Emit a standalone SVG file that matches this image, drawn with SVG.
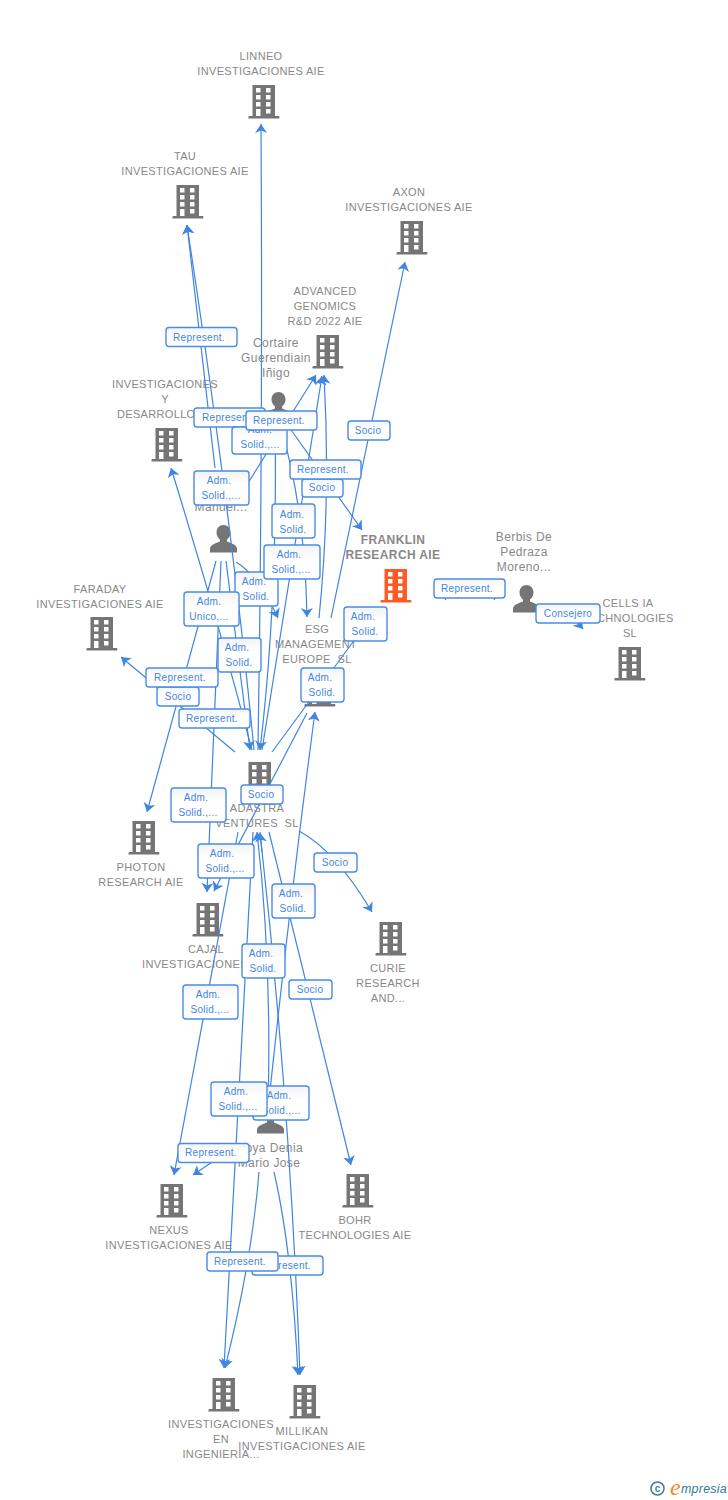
<svg xmlns="http://www.w3.org/2000/svg" width="728" height="1500" viewBox="0 0 728 1500">
<style>
text{font-family:"Liberation Sans",Arial,sans-serif}
.n{font-size:11px;fill:#888;text-anchor:middle;letter-spacing:.33px}
.p{font-size:12px;fill:#888;text-anchor:middle;letter-spacing:.4px}
.f{font-size:12px;fill:#888;text-anchor:middle;font-weight:bold;letter-spacing:.4px}
.e{fill:none;stroke:#3f85e2;stroke-width:1.2;marker-end:url(#a)}
.l{fill:none;stroke:#3f85e2;stroke-width:1.2}
.b{fill:url(#g);stroke:#4a8ce6;stroke-width:1.4}
.t{font-size:10px;fill:#3f85e2;text-anchor:middle;letter-spacing:.3px}
</style>
<defs>
<linearGradient id="g" x1="0" y1="0" x2="0" y2="1"><stop offset="0" stop-color="#f3f3f3"/><stop offset=".4" stop-color="#fff"/><stop offset="1" stop-color="#fff"/></linearGradient>
<marker id="a" markerUnits="userSpaceOnUse" markerWidth="12" markerHeight="14" refX="9" refY="6.500" orient="auto"><path d="M9 6.500L0 0.500L2.500 6.500L0 12.500Z" fill="#3f85e2"/></marker>
<symbol id="bd" width="32" height="34" viewBox="0 0 32 34" overflow="visible"><path fill-rule="evenodd" d="M4.500 0H27V31H31Q32 32 31 33.500H0.500Q0 32 1 31H4.500ZM8 3V7.500H12.500V3ZM18 3V7.500H22.500V3ZM8 10V14.500H12.500V10ZM18 10V14.500H22.500V10ZM8 17V21.500H12.500V17ZM18 17V21.500H22.500V17ZM8 24V31H12.500V24ZM18 24V28.500H22.500V24Z"/></symbol>
<symbol id="pe" width="27" height="28" viewBox="0 0 27 28" overflow="visible"><path d="M13.500 0C17.500 0 20.500 3 20.500 7.500C20.500 10.500 19 13 17 14.500V16.500C20 18 26.500 19 27 23.500V27.500H0V23.500C.5 19 7 18 10 16.500V14.500C8 13 6.500 10.500 6.500 7.500C6.500 3 9.500 0 13.500 0Z"/></symbol>
</defs>

<g id="node-linneo" fill="#757575"><text class="n" x="261" y="60">LINNEO</text><text class="n" x="261" y="75">INVESTIGACIONES AIE</text><use href="#bd" x="248" y="85"/></g>
<g id="node-tau" fill="#757575"><text class="n" x="185" y="160">TAU</text><text class="n" x="185" y="175">INVESTIGACIONES AIE</text><use href="#bd" x="172" y="185"/></g>
<g id="node-axon" fill="#757575"><text class="n" x="409" y="196">AXON</text><text class="n" x="409" y="211">INVESTIGACIONES AIE</text><use href="#bd" x="396" y="221"/></g>
<g id="node-advanced" fill="#757575"><text class="n" x="325" y="295">ADVANCED</text><text class="n" x="325" y="310">GENOMICS</text><text class="n" x="325" y="325">R&amp;D 2022 AIE</text><use href="#bd" x="312" y="335"/></g>
<g id="node-cortaire" fill="#757575"><text class="p" x="276" y="347">Cortaire</text><text class="p" x="276" y="362">Guerendiain</text><text class="p" x="276" y="377">Iñigo</text><use href="#pe" x="265" y="392"/></g>
<g id="node-desarrollo" fill="#757575"><text class="n" x="165" y="388">INVESTIGACIONES</text><text class="n" x="165" y="403">Y</text><text class="n" x="117" y="418" style="text-anchor:start">DESARROLLO</text><use href="#bd" x="151" y="428"/></g>
<g id="node-manuel" fill="#757575"><text class="p" x="221" y="511">Manuel...</text><use href="#pe" x="210" y="525"/></g>
<g id="node-franklin" fill="#ff5a26"><text class="f" x="393" y="544">FRANKLIN</text><text class="f" x="393" y="559">RESEARCH AIE</text><use href="#bd" x="380" y="569"/></g>
<g id="node-berbis" fill="#757575"><text class="p" x="524" y="541">Berbis De</text><text class="p" x="524" y="556">Pedraza</text><text class="p" x="524" y="571">Moreno...</text><use href="#pe" x="513" y="585"/></g>
<g id="node-cells" fill="#757575"><text class="n" x="628" y="607">CELLS IA</text><text class="n" x="628" y="622">TECHNOLOGIES</text><text class="n" x="630" y="637">SL</text><use href="#bd" x="614" y="647"/></g>
<g id="node-faraday" fill="#757575"><text class="n" x="100" y="593">FARADAY</text><text class="n" x="100" y="608">INVESTIGACIONES AIE</text><use href="#bd" x="86" y="617"/></g>
<g id="node-esg" fill="#757575"><text class="n" x="317" y="633">ESG</text><text class="n" x="316" y="648">MANAGEMENT</text><text class="n" x="317" y="663" xml:space="preserve">EUROPE  SL</text><use href="#bd" x="304" y="673"/></g>
<g id="node-adastra" fill="#757575"><use href="#bd" x="244" y="762"/><text class="n" x="257" y="812">ADASTRA</text><text class="n" x="257" y="827" xml:space="preserve">VENTURES  SL</text></g>
<g id="node-photon" fill="#757575"><use href="#bd" x="128" y="821"/><text class="n" x="141" y="871">PHOTON</text><text class="n" x="141" y="886">RESEARCH AIE</text></g>
<g id="node-cajal" fill="#757575"><use href="#bd" x="192" y="903"/><text class="n" x="206" y="953">CAJAL</text><text class="n" x="142" y="968" style="text-anchor:start">INVESTIGACIONES</text></g>
<g id="node-curie" fill="#757575"><use href="#bd" x="375" y="922"/><text class="n" x="388" y="972">CURIE</text><text class="n" x="388" y="987">RESEARCH</text><text class="n" x="388" y="1002">AND...</text></g>
<g id="node-moya" fill="#757575"><use href="#pe" x="257" y="1106"/><text class="p" x="269" y="1152">Moya Denia</text><text class="p" x="269" y="1167">Mario Jose</text></g>
<g id="node-nexus" fill="#757575"><use href="#bd" x="156" y="1184"/><text class="n" x="169" y="1234">NEXUS</text><text class="n" x="169" y="1249">INVESTIGACIONES AIE</text></g>
<g id="node-bohr" fill="#757575"><use href="#bd" x="342" y="1174"/><text class="n" x="355" y="1224">BOHR</text><text class="n" x="355" y="1239">TECHNOLOGIES AIE</text></g>
<g id="node-ingenieria" fill="#757575"><use href="#bd" x="208" y="1378"/><text class="n" x="221" y="1428">INVESTIGACIONES</text><text class="n" x="221" y="1443">EN</text><text class="n" x="221" y="1458">INGENIERIA...</text></g>
<g id="node-millikan" fill="#757575"><use href="#bd" x="289" y="1385"/><text class="n" x="302" y="1435">MILLIKAN</text><text class="n" x="302" y="1450">INVESTIGACIONES AIE</text></g>

<g id="connectors">
<path class="e" d="M258 750Q263 440 261 124"/>
<path class="e" d="M254 750Q232 520 187 225"/>
<path class="e" d="M215 468L187 225"/>
<path class="e" d="M252 750Q215 610 171 468"/>
<path class="e" d="M216 561L147 812"/>
<path class="e" d="M235 752L121 657"/>
<path class="e" d="M221 561L207 892"/>
<path class="e" d="M307 713L214 891"/>
<path class="e" d="M268 1110Q290 900 315 712"/>
<path class="l" d="M272 752L375 612"/>
<path class="e" d="M331 618L405 262"/>
<path class="e" d="M319 618Q331 500 324 375"/>
<path class="e" d="M289 427L362 530"/>
<path class="e" d="M282 432Q305 510 307 617"/>
<path class="e" d="M236 562Q258 575 278 618"/>
<path class="e" d="M248 483L316 375"/>
<path class="e" d="M262 750L322 376"/>
<path class="e" d="M275 420Q278 600 260 750"/>
<path class="e" d="M226 561L250 750"/>
<path class="e" d="M253 832L224 1368"/>
<path class="e" d="M268 1110Q272 960 257 832"/>
<path class="e" d="M260 832Q290 1100 300 1375"/>
<path class="l" d="M262 852L260 833" style="marker-end:url(#a)"/>
<path class="e" d="M274 1172Q292 1250 298 1375"/>
<path class="e" d="M259 1172Q252 1260 225 1368"/>
<path class="e" d="M238 832L174 1175"/>
<path class="e" d="M230 1150L193 1175"/>
<path class="e" d="M269 832L351 1165"/>
<path class="e" d="M299 831Q335 850 372 912"/>
<path class="l" d="M496 597Q470 592 444 597L446 600M496 597L494 600"/>
<path class="e" d="M574 618L583 629"/>
</g>

<g id="edge-labels">
<g><rect class="b" x="166" y="327.500" width="71" height="19" rx="3"/><text class="t" x="199" y="341">Represent.</text></g>
<g><rect class="b" x="348" y="421" width="42" height="19" rx="3"/><text class="t" x="368" y="434">Socio</text></g>
<g><rect class="b" x="194" y="408" width="71" height="19" rx="3"/><text class="t" x="228" y="421">Represent.</text></g>
<g><rect class="b" x="232" y="427" width="55" height="27" rx="3"/><text class="t" x="260" y="433">Adm.</text><text class="t" x="260" y="448">Solid.,...</text></g>
<g><rect class="b" x="246" y="411" width="71" height="19" rx="3"/><text class="t" x="279" y="424">Represent.</text></g>
<g><rect class="b" x="302" y="479" width="41" height="18" rx="3"/><text class="t" x="322" y="491">Socio</text></g>
<g><rect class="b" x="290" y="460" width="71" height="19" rx="3"/><text class="t" x="323" y="473">Represent.</text></g>
<g><rect class="b" x="194" y="471" width="55" height="34" rx="3"/><text class="t" x="219" y="484">Adm.</text><text class="t" x="221" y="499">Solid.,...</text></g>
<g><rect class="b" x="272" y="504" width="43" height="34" rx="3"/><text class="t" x="292" y="518">Adm.</text><text class="t" x="293" y="533">Solid.</text></g>
<g><rect class="b" x="235" y="572" width="43" height="34" rx="3"/><text class="t" x="254" y="585">Adm.</text><text class="t" x="256" y="600">Solid.</text></g>
<g><rect class="b" x="264" y="545" width="56" height="34" rx="3"/><text class="t" x="289" y="558">Adm.</text><text class="t" x="291" y="573">Solid.,...</text></g>
<g><rect class="b" x="184" y="592" width="55" height="34" rx="3"/><text class="t" x="209" y="605">Adm.</text><text class="t" x="209" y="620">Unico,...</text></g>
<g><rect class="b" x="344" y="607" width="43" height="34" rx="3"/><text class="t" x="363" y="620">Adm.</text><text class="t" x="365" y="635">Solid.</text></g>
<g><rect class="b" x="218" y="638" width="43" height="34" rx="3"/><text class="t" x="237" y="651">Adm.</text><text class="t" x="239" y="666">Solid.</text></g>
<g><rect class="b" x="301" y="668" width="43" height="34" rx="3"/><text class="t" x="320" y="681">Adm.</text><text class="t" x="322" y="696">Solid.</text></g>
<g><rect class="b" x="157" y="687" width="42" height="19" rx="3"/><text class="t" x="178" y="700">Socio</text></g>
<g><rect class="b" x="146" y="668" width="72" height="19" rx="3"/><text class="t" x="180" y="681">Represent.</text></g>
<g><rect class="b" x="179" y="709" width="71" height="19" rx="3"/><text class="t" x="212" y="722">Represent.</text></g>
<g><rect class="b" x="171" y="788" width="55" height="34" rx="3"/><text class="t" x="196" y="801">Adm.</text><text class="t" x="198" y="816">Solid.,...</text></g>
<g><rect class="b" x="241" y="785" width="42" height="19" rx="3"/><text class="t" x="261" y="798">Socio</text></g>
<g><rect class="b" x="314" y="853" width="43" height="19" rx="3"/><text class="t" x="335" y="866">Socio</text></g>
<g><rect class="b" x="198" y="844" width="56" height="34" rx="3"/><text class="t" x="222" y="857">Adm.</text><text class="t" x="225" y="872">Solid.,...</text></g>
<g><rect class="b" x="272" y="884" width="43" height="34" rx="3"/><text class="t" x="291" y="897">Adm.</text><text class="t" x="293" y="912">Solid.</text></g>
<g><rect class="b" x="242" y="944" width="43" height="34" rx="3"/><text class="t" x="261" y="957">Adm.</text><text class="t" x="263" y="972">Solid.</text></g>
<g><rect class="b" x="289" y="980" width="43" height="19" rx="3"/><text class="t" x="310" y="993">Socio</text></g>
<g><rect class="b" x="183" y="985" width="55" height="34" rx="3"/><text class="t" x="208" y="998">Adm.</text><text class="t" x="210" y="1013">Solid.,...</text></g>
<g><rect class="b" x="253" y="1086" width="56" height="34" rx="3"/><text class="t" x="279" y="1099">Adm.</text><text class="t" x="281" y="1114">Solid.,...</text></g>
<g><rect class="b" x="211" y="1082" width="56" height="34" rx="3"/><text class="t" x="236" y="1095">Adm.</text><text class="t" x="238" y="1110">Solid.,...</text></g>
<g><rect class="b" x="178" y="1143.500" width="71" height="19" rx="3"/><text class="t" x="211" y="1156">Represent.</text></g>
<g><rect class="b" x="252" y="1256" width="71" height="19" rx="3"/><text class="t" x="285" y="1269">Represent.</text></g>
<g><rect class="b" x="207" y="1252" width="71" height="19" rx="3"/><text class="t" x="240" y="1265">Represent.</text></g>
<g><rect class="b" x="434" y="579" width="71" height="19" rx="3"/><text class="t" x="467" y="592">Represent.</text></g>
<g><rect class="b" x="536" y="604" width="64" height="19" rx="3"/><text class="t" x="568" y="617">Consejero</text></g>
</g>

<g id="logo">
<circle cx="657.500" cy="1488.500" r="6.500" fill="none" stroke="#4a7c94" stroke-width="1.600"/>
<text x="657.500" y="1492" font-size="10" font-weight="bold" fill="#4a7c94" text-anchor="middle">c</text>
<text x="670" y="1495" font-size="24" fill="#f08a1c" style="font-family:'Liberation Serif',serif;font-style:italic">e</text>
<text x="681" y="1493" font-size="12.500" fill="#2f7a96" style="font-style:italic;letter-spacing:.2px">mpresia</text>
</g>
</svg>
